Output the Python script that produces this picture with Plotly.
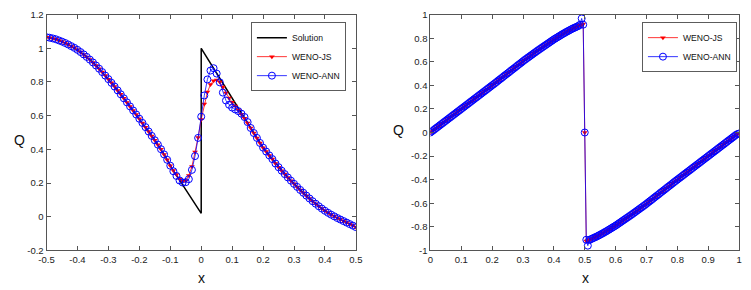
import plotly.graph_objects as go

# ---------------- Left panel data (x = -0.5 .. 0.5, step 0.01) ----------------
x_left = [round(-0.5 + 0.01 * i, 2) for i in range(101)]

left_js = [
    1.066, 1.063, 1.059, 1.054, 1.047, 1.040, 1.032, 1.023, 1.013, 1.003,
    0.991, 0.978, 0.964, 0.949, 0.933, 0.916, 0.898, 0.879, 0.859, 0.838,
    0.817, 0.795, 0.773, 0.750, 0.727, 0.703, 0.679, 0.655, 0.631, 0.607,
    0.582, 0.557, 0.532, 0.506, 0.480, 0.454, 0.428, 0.401, 0.370, 0.338,
    0.303, 0.275, 0.250, 0.224, 0.210, 0.214, 0.245, 0.298, 0.385, 0.470,
    0.578, 0.670, 0.740, 0.785, 0.808, 0.812, 0.800, 0.770, 0.735, 0.705,
    0.680, 0.658, 0.634, 0.608, 0.585, 0.556, 0.527, 0.497, 0.468, 0.438,
    0.410, 0.387, 0.364, 0.342, 0.316, 0.294, 0.273, 0.253, 0.233, 0.214,
    0.195, 0.177, 0.159, 0.142, 0.125, 0.108, 0.092, 0.077, 0.062, 0.048,
    0.035, 0.023, 0.012, 0.002, -0.008, -0.017, -0.026, -0.035, -0.044, -0.053,
    -0.062,
]

left_ann = [
    1.066, 1.063, 1.059, 1.054, 1.047, 1.040, 1.032, 1.023, 1.013, 1.003,
    0.991, 0.978, 0.964, 0.949, 0.933, 0.916, 0.898, 0.879, 0.859, 0.838,
    0.817, 0.795, 0.773, 0.750, 0.727, 0.703, 0.679, 0.655, 0.631, 0.607,
    0.582, 0.557, 0.532, 0.506, 0.480, 0.454, 0.428, 0.401, 0.370, 0.338,
    0.303, 0.270, 0.242, 0.215, 0.203, 0.205, 0.223, 0.278, 0.360, 0.468,
    0.594, 0.720, 0.815, 0.868, 0.882, 0.850, 0.798, 0.737, 0.690, 0.665,
    0.648, 0.637, 0.627, 0.612, 0.592, 0.562, 0.527, 0.497, 0.468, 0.438,
    0.410, 0.387, 0.364, 0.342, 0.316, 0.294, 0.273, 0.253, 0.233, 0.214,
    0.195, 0.177, 0.159, 0.142, 0.125, 0.108, 0.092, 0.077, 0.062, 0.048,
    0.035, 0.023, 0.012, 0.002, -0.008, -0.017, -0.026, -0.035, -0.044, -0.053,
    -0.062,
]

# exact solution: left branch x = -0.5 .. 0, right branch x = 0 .. 0.5
sol_left = [
    1.066, 1.063, 1.059, 1.054, 1.047, 1.040, 1.032, 1.023, 1.013, 1.003,
    0.991, 0.978, 0.964, 0.949, 0.933, 0.916, 0.898, 0.879, 0.859, 0.838,
    0.817, 0.795, 0.773, 0.750, 0.727, 0.703, 0.679, 0.655, 0.631, 0.607,
    0.582, 0.557, 0.532, 0.506, 0.480, 0.454, 0.428, 0.401, 0.370, 0.338,
    0.303, 0.272, 0.245, 0.217, 0.189, 0.161, 0.133, 0.105, 0.076, 0.048,
    0.020,
]
sol_right = [
    1.000, 0.970, 0.940, 0.910, 0.880, 0.850, 0.820, 0.790, 0.760, 0.730,
    0.700, 0.670, 0.640, 0.610, 0.585, 0.556, 0.527, 0.497, 0.468, 0.438,
    0.410, 0.387, 0.364, 0.342, 0.316, 0.294, 0.273, 0.253, 0.233, 0.214,
    0.195, 0.177, 0.159, 0.142, 0.125, 0.108, 0.092, 0.077, 0.062, 0.048,
    0.035, 0.023, 0.012, 0.002, -0.008, -0.017, -0.026, -0.035, -0.044, -0.053,
    -0.062,
]

# ---------------- Right panel data (x = 0 .. 1, step 0.005) ----------------
x_right = [round(0.005 * i, 3) for i in range(201)]

right_js = [
    0.000, 0.010, 0.020, 0.030, 0.040, 0.050, 0.060, 0.070, 0.080, 0.090,
    0.100, 0.110, 0.120, 0.130, 0.140, 0.150, 0.160, 0.170, 0.180, 0.190,
    0.200, 0.210, 0.220, 0.230, 0.240, 0.250, 0.260, 0.270, 0.280, 0.290,
    0.300, 0.310, 0.320, 0.330, 0.340, 0.350, 0.360, 0.370, 0.380, 0.390,
    0.400, 0.410, 0.420, 0.430, 0.441, 0.451, 0.461, 0.471, 0.482, 0.492,
    0.502, 0.512, 0.523, 0.533, 0.543, 0.553, 0.564, 0.574, 0.584, 0.594,
    0.605, 0.615, 0.624, 0.634, 0.643, 0.653, 0.662, 0.672, 0.681, 0.691,
    0.700, 0.709, 0.718, 0.727, 0.736, 0.745, 0.754, 0.763, 0.772, 0.781,
    0.790, 0.798, 0.806, 0.814, 0.822, 0.830, 0.838, 0.845, 0.853, 0.860,
    0.867, 0.874, 0.881, 0.887, 0.893, 0.899, 0.905, 0.910, 0.915, 0.920,
    0.000,
    -0.920, -0.918, -0.910, -0.905, -0.899, -0.893, -0.887, -0.881, -0.874, -0.867,
    -0.860, -0.853, -0.845, -0.838, -0.830, -0.822, -0.814, -0.806, -0.798, -0.790,
    -0.781, -0.772, -0.763, -0.754, -0.745, -0.736, -0.727, -0.718, -0.709, -0.700,
    -0.691, -0.681, -0.672, -0.662, -0.653, -0.643, -0.634, -0.624, -0.615, -0.605,
    -0.594, -0.584, -0.574, -0.564, -0.553, -0.543, -0.533, -0.523, -0.512, -0.502,
    -0.492, -0.482, -0.471, -0.461, -0.451, -0.441, -0.430, -0.420, -0.410, -0.400,
    -0.390, -0.380, -0.370, -0.360, -0.350, -0.340, -0.330, -0.320, -0.310, -0.300,
    -0.290, -0.280, -0.270, -0.260, -0.250, -0.240, -0.230, -0.220, -0.210, -0.200,
    -0.190, -0.180, -0.170, -0.160, -0.150, -0.140, -0.130, -0.120, -0.110, -0.100,
    -0.090, -0.080, -0.070, -0.060, -0.050, -0.040, -0.030, -0.020, -0.013, -0.008,
]

right_ann = [
    0.000, 0.010, 0.020, 0.030, 0.040, 0.050, 0.060, 0.070, 0.080, 0.090,
    0.100, 0.110, 0.120, 0.130, 0.140, 0.150, 0.160, 0.170, 0.180, 0.190,
    0.200, 0.210, 0.220, 0.230, 0.240, 0.250, 0.260, 0.270, 0.280, 0.290,
    0.300, 0.310, 0.320, 0.330, 0.340, 0.350, 0.360, 0.370, 0.380, 0.390,
    0.400, 0.410, 0.420, 0.430, 0.441, 0.451, 0.461, 0.471, 0.482, 0.492,
    0.502, 0.512, 0.523, 0.533, 0.543, 0.553, 0.564, 0.574, 0.584, 0.594,
    0.605, 0.615, 0.624, 0.634, 0.643, 0.653, 0.662, 0.672, 0.681, 0.691,
    0.700, 0.709, 0.718, 0.727, 0.736, 0.745, 0.754, 0.763, 0.772, 0.781,
    0.790, 0.798, 0.806, 0.814, 0.822, 0.830, 0.838, 0.845, 0.853, 0.860,
    0.867, 0.874, 0.881, 0.887, 0.893, 0.899, 0.905, 0.915, 0.968, 0.915,
    0.000,
    -0.910, -0.960, -0.912, -0.905, -0.899, -0.893, -0.887, -0.881, -0.874, -0.867,
    -0.860, -0.853, -0.845, -0.838, -0.830, -0.822, -0.814, -0.806, -0.798, -0.790,
    -0.781, -0.772, -0.763, -0.754, -0.745, -0.736, -0.727, -0.718, -0.709, -0.700,
    -0.691, -0.681, -0.672, -0.662, -0.653, -0.643, -0.634, -0.624, -0.615, -0.605,
    -0.594, -0.584, -0.574, -0.564, -0.553, -0.543, -0.533, -0.523, -0.512, -0.502,
    -0.492, -0.482, -0.471, -0.461, -0.451, -0.441, -0.430, -0.420, -0.410, -0.400,
    -0.390, -0.380, -0.370, -0.360, -0.350, -0.340, -0.330, -0.320, -0.310, -0.300,
    -0.290, -0.280, -0.270, -0.260, -0.250, -0.240, -0.230, -0.220, -0.210, -0.200,
    -0.190, -0.180, -0.170, -0.160, -0.150, -0.140, -0.130, -0.120, -0.110, -0.100,
    -0.090, -0.080, -0.070, -0.060, -0.050, -0.040, -0.030, -0.020, -0.013, -0.008,
]

# ---------------- Tick labels ----------------
left_xticks = [-0.5, -0.4, -0.3, -0.2, -0.1, 0, 0.1, 0.2, 0.3, 0.4, 0.5]
left_xlabels = ["-0.5", "-0.4", "-0.3", "-0.2", "-0.1", "0", "0.1", "0.2", "0.3", "0.4", "0.5"]
left_yticks = [-0.2, 0, 0.2, 0.4, 0.6, 0.8, 1.0, 1.2]
left_ylabels = ["-0.2", "0", "0.2", "0.4", "0.6", "0.8", "1", "1.2"]
right_xticks = [0, 0.1, 0.2, 0.3, 0.4, 0.5, 0.6, 0.7, 0.8, 0.9, 1.0]
right_xlabels = ["0", "0.1", "0.2", "0.3", "0.4", "0.5", "0.6", "0.7", "0.8", "0.9", "1"]
right_yticks = [-1, -0.8, -0.6, -0.4, -0.2, 0, 0.2, 0.4, 0.6, 0.8, 1]
right_ylabels = ["-1", "-0.8", "-0.6", "-0.4", "-0.2", "0", "0.2", "0.4", "0.6", "0.8", "1"]

W, H = 751, 290
FONT = "Liberation Sans, Arial, sans-serif"
RED = "#ff0000"
BLUE = "#0000ff"

fig = go.Figure()

# Left panel
fig.add_trace(go.Scatter(
    x=x_left[:51] + x_left[50:], y=sol_left + sol_right, mode="lines",
    line=dict(color="black", width=1.5), name="Solution",
    xaxis="x", yaxis="y", legend="legend"))
fig.add_trace(go.Scatter(
    x=x_left, y=left_js, mode="lines+markers", name="WENO-JS",
    line=dict(color=RED, width=0.8),
    marker=dict(symbol="triangle-down", size=5, color=RED),
    xaxis="x", yaxis="y", legend="legend"))
fig.add_trace(go.Scatter(
    x=x_left, y=left_ann, mode="lines+markers", name="WENO-ANN",
    line=dict(color=BLUE, width=0.8),
    marker=dict(symbol="circle-open", size=7, color=BLUE, line=dict(width=1)),
    xaxis="x", yaxis="y", legend="legend"))

# Right panel
fig.add_trace(go.Scatter(
    x=x_right, y=right_js, mode="lines+markers", name="WENO-JS",
    line=dict(color=RED, width=0.8),
    marker=dict(symbol="triangle-down", size=5, color=RED),
    xaxis="x2", yaxis="y2", legend="legend2"))
fig.add_trace(go.Scatter(
    x=x_right, y=right_ann, mode="lines+markers", name="WENO-ANN",
    line=dict(color=BLUE, width=0.8),
    marker=dict(symbol="circle-open", size=7, color=BLUE, line=dict(width=1)),
    xaxis="x2", yaxis="y2", legend="legend2"))

axis_common = dict(
    showline=True, linecolor="#555555", linewidth=1, mirror="ticks",
    ticks="inside", ticklen=4, tickcolor="#555555", tickwidth=1,
    showgrid=False, zeroline=False,
    tickfont=dict(family=FONT, size=9.5, color="#222222"),
)

ydom = [(H - 254) / H, (H - 9) / H]


def label(text, px, py):
    return dict(text=text, x=px / W, y=(H - py) / H, xref="paper", yref="paper",
                xanchor="center", yanchor="middle", showarrow=False,
                font=dict(family=FONT, size=14, color="#111111"))


fig.update_layout(
    width=W, height=H,
    margin=dict(l=0, r=0, t=0, b=0),
    paper_bgcolor="white", plot_bgcolor="white",
    xaxis=dict(domain=[39.3 / W, 355 / W], range=[-0.5, 0.5], anchor="y",
               tickvals=left_xticks, ticktext=left_xlabels, **axis_common),
    yaxis=dict(domain=ydom, range=[-0.2, 1.2], anchor="x",
               tickvals=left_yticks, ticktext=left_ylabels, **axis_common),
    xaxis2=dict(domain=[431 / W, 746 / W], range=[0, 1], anchor="y2",
                tickvals=right_xticks, ticktext=right_xlabels, **axis_common),
    yaxis2=dict(domain=ydom, range=[-1, 1], anchor="x2",
                tickvals=right_yticks, ticktext=right_ylabels, **axis_common),
    legend=dict(x=345 / W, xanchor="right", y=(H - 17) / H, yanchor="top",
                bordercolor="#333333", borderwidth=0.8, bgcolor="white",
                font=dict(family=FONT, size=8.6, color="#111111"),
                tracegroupgap=0, itemwidth=30),
    legend2=dict(x=744 / W, xanchor="right", y=(H - 17) / H, yanchor="top",
                 bordercolor="#333333", borderwidth=0.8, bgcolor="white",
                 font=dict(family=FONT, size=8.6, color="#111111"),
                 tracegroupgap=0, itemwidth=30),
    showlegend=True,
    annotations=[
        label("x", (39.3 + 355) / 2, 283),
        label("x", 589, 283),
        label("Q", 12, 139),
        label("Q", 398, 129),
    ],
)

fig.write_html("out.html", config={"displayModeBar": False},
               post_script="document.body.style.margin='0';document.body.style.overflow='hidden';")
